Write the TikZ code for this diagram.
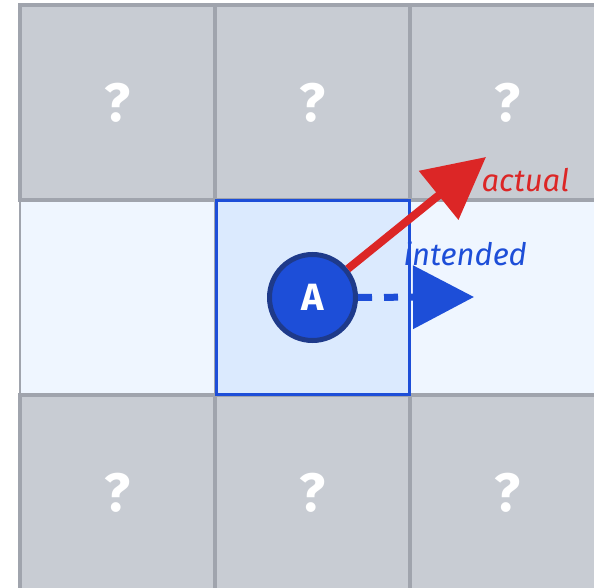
\documentclass[tikz,border=0pt]{standalone}
\usepackage{fontspec}
\setmainfont{Fira Sans}
\usetikzlibrary{arrows.meta}
\usetikzlibrary{positioning}
\usetikzlibrary{calc}

\definecolor{cellgray}{RGB}{200,204,211}
\definecolor{edgegray}{RGB}{160,164,173}
\definecolor{rowblue}{RGB}{239,246,255}
\definecolor{hereblue}{RGB}{219,234,254}
\definecolor{agentblue}{RGB}{29,78,216}
\definecolor{agentedge}{RGB}{30,58,138}
\definecolor{slipred}{RGB}{220,38,38}

\tikzset{
  unknown/.style={draw=edgegray, line width=4pt, fill=cellgray, minimum size=195pt, inner sep=0pt,
    text=white, font=\bfseries\fontsize{54}{54}\selectfont},
  open/.style={draw=edgegray, line width=1.5pt, fill=rowblue, minimum size=195pt, inner sep=0pt},
  here/.style={draw=agentblue, line width=3pt, fill=hereblue, minimum size=193pt, inner sep=0pt},
  agent/.style={circle, draw=agentedge, line width=5pt, fill=agentblue, minimum size=86pt, inner sep=0pt,
    text=white, font=\bfseries\fontsize{38}{38}\selectfont},
}

\begin{document}
\begin{tikzpicture}[x=1pt,y=-1pt]
\clip (0,0) rectangle (594,588);
\pgfmathsetmacro{\cell}{195};
\fill[white] (0,0) rectangle (594,588);

% middle row
\node[open] (c10) at ({20+0.5*\cell}, {5+1.5*\cell}) {};
\node[open] (c12) at ({20+2.5*\cell}, {5+1.5*\cell}) {};

% unknown cells
\foreach \r in {0,2} {
  \foreach \c in {0,1,2} {
    \node[unknown] (c\r\c) at ({20+\cell*(\c+0.5)}, {5+\cell*(\r+0.5)}) {?};
  }
}

\node[here] (c11) at ({20+1.5*\cell}, {5+1.5*\cell}) {};
\node[agent] (A) at (c11) {A};

% moves
\coordinate (tipr) at (486,157);
\coordinate (tipb) at (474,297);
\draw[slipred, line width=8pt, -{Triangle[length=61pt, width=61pt]}] (A) -- (tipr);
\draw[agentblue, line width=7pt, dash pattern=on 14pt off 12pt, -{Triangle[length=61pt, width=62pt]}] (A) -- (tipb);

\node[anchor=west, text=slipred, font=\itshape\fontsize{31}{31}\selectfont] (actual) at (478,180) {actual};
\node[anchor=west, text=agentblue, font=\itshape\fontsize{31}{31}\selectfont] (intended) at (400,254) {intended};
\end{tikzpicture}
\end{document}
